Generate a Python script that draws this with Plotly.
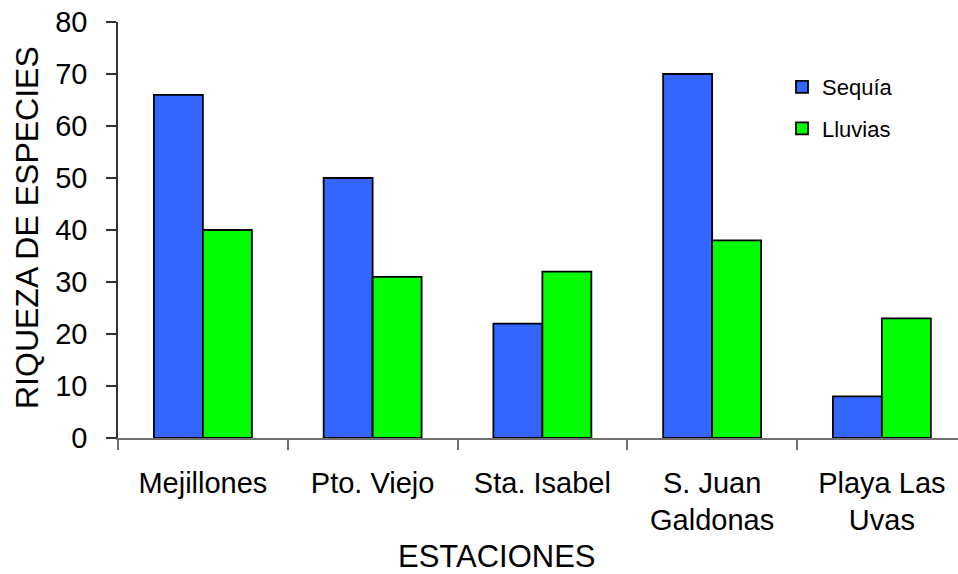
import plotly.graph_objects as go

categories = ["Mejillones", "Pto. Viejo", "Sta. Isabel", "S. Juan<br>Galdonas", "Playa Las<br>Uvas"]
sequia = [66, 50, 22, 70, 8]
lluvias = [40, 31, 32, 38, 23]
series_names = ["Sequía", "Lluvias"]
y_ticks = [0, 10, 20, 30, 40, 50, 60, 70, 80]

W, H = 958, 574
ML, MR, MT, MB = 118, 0, 22, 136
PW = W - ML - MR
PH = H - MT - MB

FONT = "Liberation Sans, Arial, sans-serif"

fig = go.Figure()
fig.add_trace(go.Bar(x=categories, y=sequia, name=series_names[0], legendgroup="a",
                     marker=dict(color="#3366FF", line=dict(color="#000000", width=1.8))))
fig.add_trace(go.Bar(x=categories, y=lluvias, name=series_names[1], legendgroup="b",
                     marker=dict(color="#00FF00", line=dict(color="#000000", width=1.8))))

cat_w = 169.75
xmax = -0.5 + PW / cat_w

fig.update_layout(
    width=W, height=H,
    margin=dict(l=ML, r=MR, t=MT, b=MB, pad=0),
    paper_bgcolor="white", plot_bgcolor="white",
    barmode="group", bargap=0.423, bargroupgap=0,
    font=dict(family=FONT, color="black"),
    showlegend=True,
    legend=dict(x=(782 - ML) / PW, y=1 - (66 - MT) / PH, xanchor="left", yanchor="top",
                font=dict(size=22, family=FONT), tracegroupgap=10,
                bgcolor="rgba(0,0,0,0)", borderwidth=0, itemclick=False),
    xaxis=dict(type="category", range=[-0.5, xmax], showgrid=False,
               showline=True, linecolor="#707070", linewidth=1.5,
               ticks="outside", tickson="boundaries", ticklen=10, tickcolor="#707070", tickwidth=1.5,
               tickfont=dict(size=29, family=FONT, color="black"), ticklabelstandoff=18),
    yaxis=dict(range=[0, 80], tickvals=y_ticks, showgrid=False, zeroline=False,
               showline=True, linecolor="#333333", linewidth=1.5,
               ticks="outside", ticklen=10, tickcolor="#333333", tickwidth=1.5,
               tickfont=dict(size=29, family=FONT, color="black"), ticklabelstandoff=13),
    annotations=[
        dict(text="RIQUEZA DE ESPECIES", xref="paper", yref="paper",
             x=(27 - ML) / PW, y=1 - (228 - MT) / PH, xanchor="center", yanchor="middle",
             textangle=-90, showarrow=False, font=dict(size=32, family=FONT, color="black")),
        dict(text="ESTACIONES", xref="paper", yref="paper",
             x=(497 - ML) / PW, y=1 - (556 - MT) / PH, xanchor="center", yanchor="middle",
             showarrow=False, font=dict(size=31, family=FONT, color="black")),
    ],
)

fig.write_html("out.html", config={"displayModeBar": False},
               post_script="document.body.style.margin='0';document.body.style.overflow='hidden';")
